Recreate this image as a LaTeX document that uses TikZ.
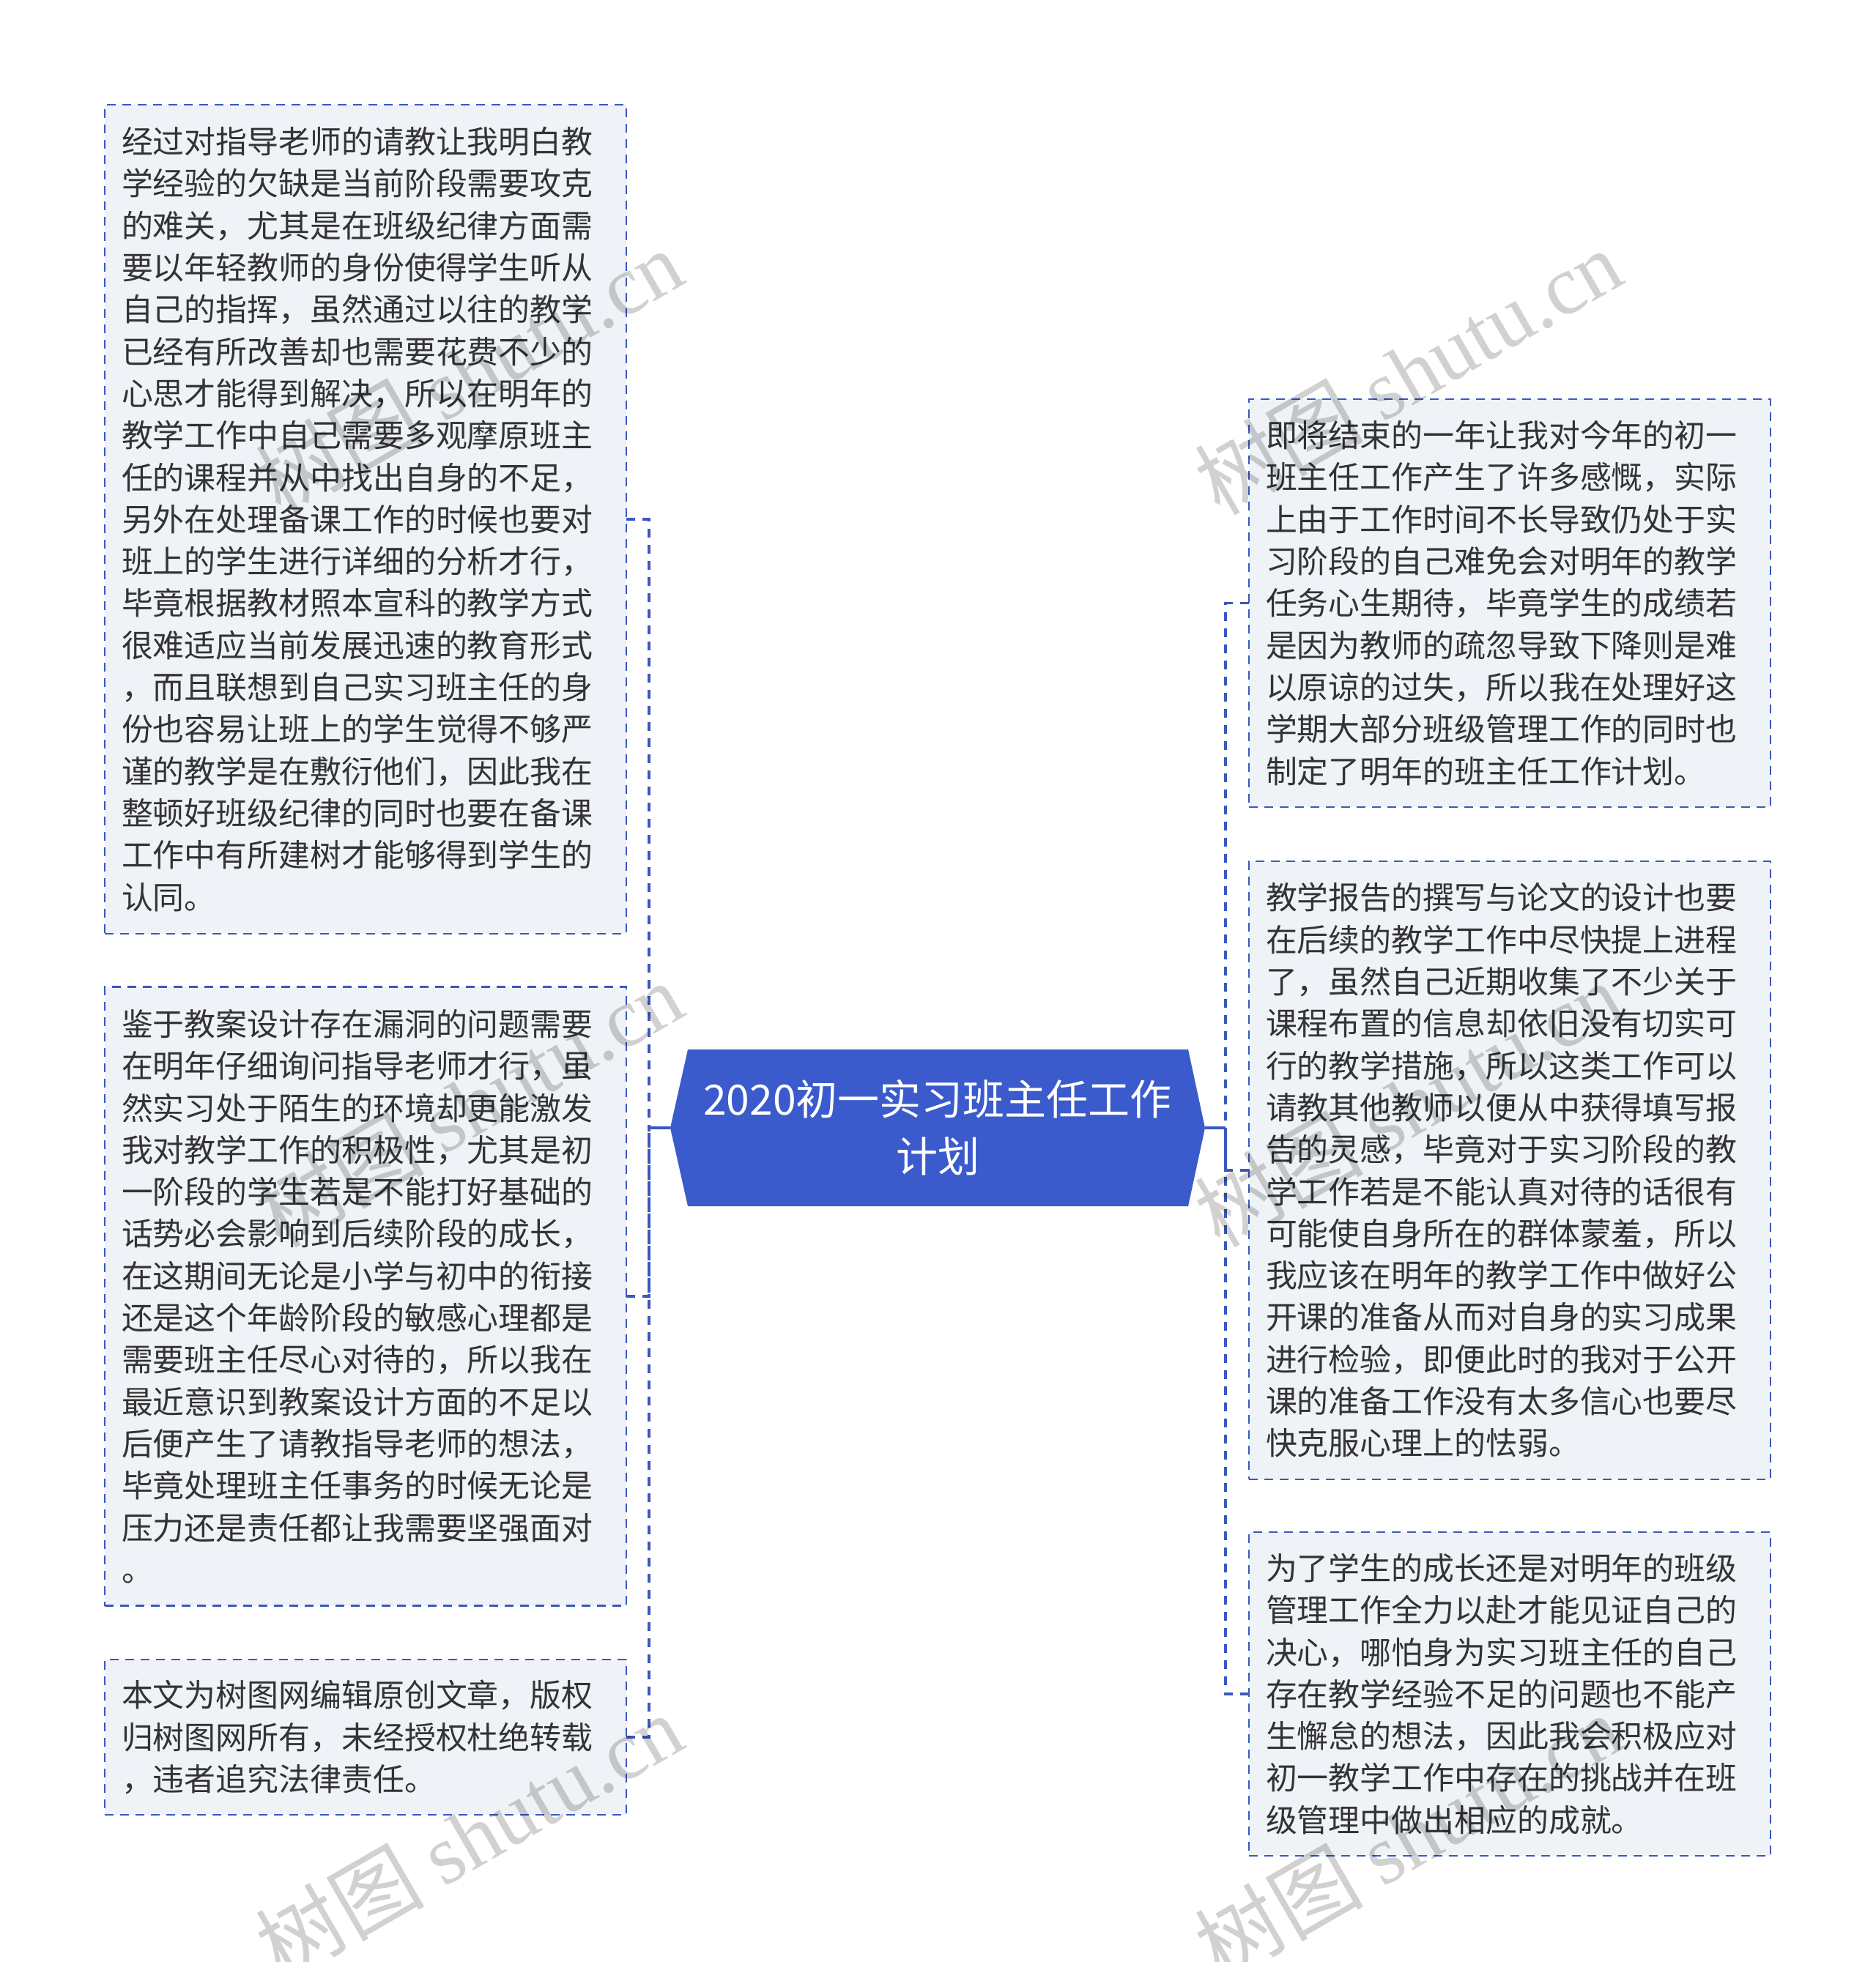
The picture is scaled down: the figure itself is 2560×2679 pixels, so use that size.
\documentclass[tikz,border=0pt]{standalone}
\usepackage{fontspec}
\setmainfont{Noto Sans CJK SC}
\newfontfamily\wmserif{Liberation Serif}
\usetikzlibrary{backgrounds}
\definecolor{rootblue}{RGB}{59,91,204}
\definecolor{linkblue}{RGB}{58,88,190}
\definecolor{boxfill}{RGB}{239,242,246}
\definecolor{textgray}{RGB}{51,51,51}
\tikzset{
  leaf/.style={draw=linkblue, line width=2.3pt, dash pattern=on 12pt off 9pt,
    fill=boxfill, text=textgray, minimum width=712pt, text width=666pt,
    inner xsep=23pt, inner ysep=0pt, outer sep=0pt, align=left,
    font=\fontsize{42.9}{57.3}\selectfont},
  rootbox/.style={text=white, align=center, minimum width=730pt, minimum height=214pt,
    inner sep=0pt, outer sep=0pt, font=\fontsize{57}{78}\selectfont},
  conn/.style={draw=linkblue, line width=3.2pt, dash pattern=on 12pt off 10pt},
  rootline/.style={draw=linkblue, line width=3.2pt},
  wm/.style={text=black, text opacity=0.18, font=\fontsize{115}{115}\selectfont,
    rotate=30, anchor=base, inner sep=0pt}
}
\begin{document}
\begin{tikzpicture}[x=1pt,y=-1pt]
\begin{scope}[on background layer]
  \fill[white] (0,0) rectangle (2560,2679);
\end{scope}
\useasboundingbox (0,0) rectangle (2560,2679);

% root
\node[rootbox] (root) at (1280,1540) {2020初一实习班主任工作\\计划};
\begin{scope}[on background layer]
  \fill[rootblue] ([xshift=24pt]root.north west) -- ([xshift=-23pt]root.north east)
    -- (root.east) -- ([xshift=-23pt]root.south east)
    -- ([xshift=24pt]root.south west) -- (root.west) -- cycle;
\end{scope}

% junctions
\coordinate (Lj) at (886,1540);
\coordinate (Rj) at (1673,1540);

% left boxes
\node[leaf, minimum height=1132pt] (L1) at (499,709) {经过对指导老师的请教让我明白教\\学经验的欠缺是当前阶段需要攻克\\的难关，尤其是在班级纪律方面需\\要以年轻教师的身份使得学生听从\\自己的指挥，虽然通过以往的教学\\已经有所改善却也需要花费不少的\\心思才能得到解决，所以在明年的\\教学工作中自己需要多观摩原班主\\任的课程并从中找出自身的不足，\\另外在处理备课工作的时候也要对\\班上的学生进行详细的分析才行，\\毕竟根据教材照本宣科的教学方式\\很难适应当前发展迅速的教育形式\\，而且联想到自己实习班主任的身\\份也容易让班上的学生觉得不够严\\谨的教学是在敷衍他们，因此我在\\整顿好班级纪律的同时也要在备课\\工作中有所建树才能够得到学生的\\认同。};
\node[leaf, minimum height=845pt] (L2) at (499,1770) {鉴于教案设计存在漏洞的问题需要\\在明年仔细询问指导老师才行，虽\\然实习处于陌生的环境却更能激发\\我对教学工作的积极性，尤其是初\\一阶段的学生若是不能打好基础的\\话势必会影响到后续阶段的成长，\\在这期间无论是小学与初中的衔接\\还是这个年龄阶段的敏感心理都是\\需要班主任尽心对待的，所以我在\\最近意识到教案设计方面的不足以\\后便产生了请教指导老师的想法，\\毕竟处理班主任事务的时候无论是\\压力还是责任都让我需要坚强面对\\。};
\node[leaf, minimum height=212pt] (L3) at (499,2372) {本文为树图网编辑原创文章，版权\\归树图网所有，未经授权杜绝转载\\，违者追究法律责任。};

% right boxes
\node[leaf, minimum height=557pt] (R1) at (2061,823.5) {即将结束的一年让我对今年的初一\\班主任工作产生了许多感慨，实际\\上由于工作时间不长导致仍处于实\\习阶段的自己难免会对明年的教学\\任务心生期待，毕竟学生的成绩若\\是因为教师的疏忽导致下降则是难\\以原谅的过失，所以我在处理好这\\学期大部分班级管理工作的同时也\\制定了明年的班主任工作计划。};
\node[leaf, minimum height=844pt] (R2) at (2061,1598) {教学报告的撰写与论文的设计也要\\在后续的教学工作中尽快提上进程\\了，虽然自己近期收集了不少关于\\课程布置的信息却依旧没有切实可\\行的教学措施，所以这类工作可以\\请教其他教师以便从中获得填写报\\告的灵感，毕竟对于实习阶段的教\\学工作若是不能认真对待的话很有\\可能使自身所在的群体蒙羞，所以\\我应该在明年的教学工作中做好公\\开课的准备从而对自身的实习成果\\进行检验，即便此时的我对于公开\\课的准备工作没有太多信心也要尽\\快克服心理上的怯弱。};
\node[leaf, minimum height=442pt] (R3) at (2061,2313) {为了学生的成长还是对明年的班级\\管理工作全力以赴才能见证自己的\\决心，哪怕身为实习班主任的自己\\存在教学经验不足的问题也不能产\\生懈怠的想法，因此我会积极应对\\初一教学工作中存在的挑战并在班\\级管理中做出相应的成就。};

% connectors
\draw[conn] (L1.east) -| (Lj);
\draw[conn] (L2.east) -| (Lj);
\draw[conn] (L3.east) -| (Lj);
\draw[conn] (R1.west) -| (Rj);
\draw[conn] (R2.west) -| (Rj);
\draw[conn] (R3.west) -| (Rj);
\draw[rootline] (root.west) -- (Lj);
\draw[rootline] (root.east) -- (Rj);

% watermarks
\node[wm] (w1) at (662,545) {树图 {\wmserif shutu.cn}};
\node[wm] (w2) at (1944,545) {树图 {\wmserif shutu.cn}};
\node[wm] (w3) at (662,1545) {树图 {\wmserif shutu.cn}};
\node[wm] (w4) at (1944,1545) {树图 {\wmserif shutu.cn}};
\node[wm] (w5) at (662,2545) {树图 {\wmserif shutu.cn}};
\node[wm] (w6) at (1944,2545) {树图 {\wmserif shutu.cn}};
\end{tikzpicture}
\end{document}
